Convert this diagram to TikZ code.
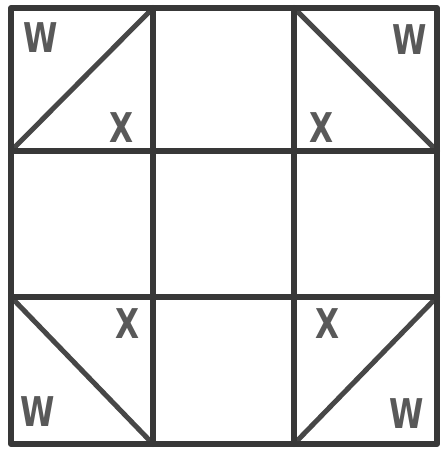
\documentclass[tikz,border=0pt]{standalone}
\usepackage{fontspec}
\setmainfont{DejaVu Sans}
\usetikzlibrary{calc}

\begin{document}
\begin{tikzpicture}[x=1pt, y=-1pt]
	\def \lw {6pt}
	\tikzset{
		gridline/.style={draw=black!78, line width=\lw, line cap=round, line join=round},
		diag/.style={draw=black!72, line width=5pt, line cap=round},
		letter/.style={text=black!65, font=\bfseries\fontsize{41}{41}\selectfont, xscale=0.76, inner sep=0pt}
	}
	\useasboundingbox (0,0) rectangle (441,449);

	% grid corners
	\coordinate (a0) at (11,8);
	\coordinate (a1) at (153,8);
	\coordinate (a2) at (294,8);
	\coordinate (a3) at (437,8);
	\coordinate (b0) at (11,151);
	\coordinate (b3) at (437,151);
	\coordinate (c0) at (11,297);
	\coordinate (c3) at (437,297);
	\coordinate (d0) at (11,444);
	\coordinate (d1) at (153,444);
	\coordinate (d2) at (294,444);
	\coordinate (d3) at (437,444);

	% diagonals
	\draw[diag] (b0) -- (a1);
	\draw[diag] (a2) -- (b3);
	\draw[diag] (c0) -- (d1);
	\draw[diag] (d2) -- (c3);

	% lines
	\draw[gridline] (a0) rectangle (d3);
	\draw[gridline] (a1) -- (d1);
	\draw[gridline] (a2) -- (d2);
	\draw[gridline] (b0) -- (b3);
	\draw[gridline] (c0) -- (c3);

	% letters
	\node[letter] (wtl) at (41,38)  {W};
	\node[letter] (xtl) at (122,128) {X};
	\node[letter] (wtr) at (410,40) {W};
	\node[letter] (xtr) at (322,128) {X};
	\node[letter] (xbl) at (128,324) {X};
	\node[letter] (wbl) at (38,412) {W};
	\node[letter] (xbr) at (328,324) {X};
	\node[letter] (wbr) at (407,414) {W};
\end{tikzpicture}
\end{document}
